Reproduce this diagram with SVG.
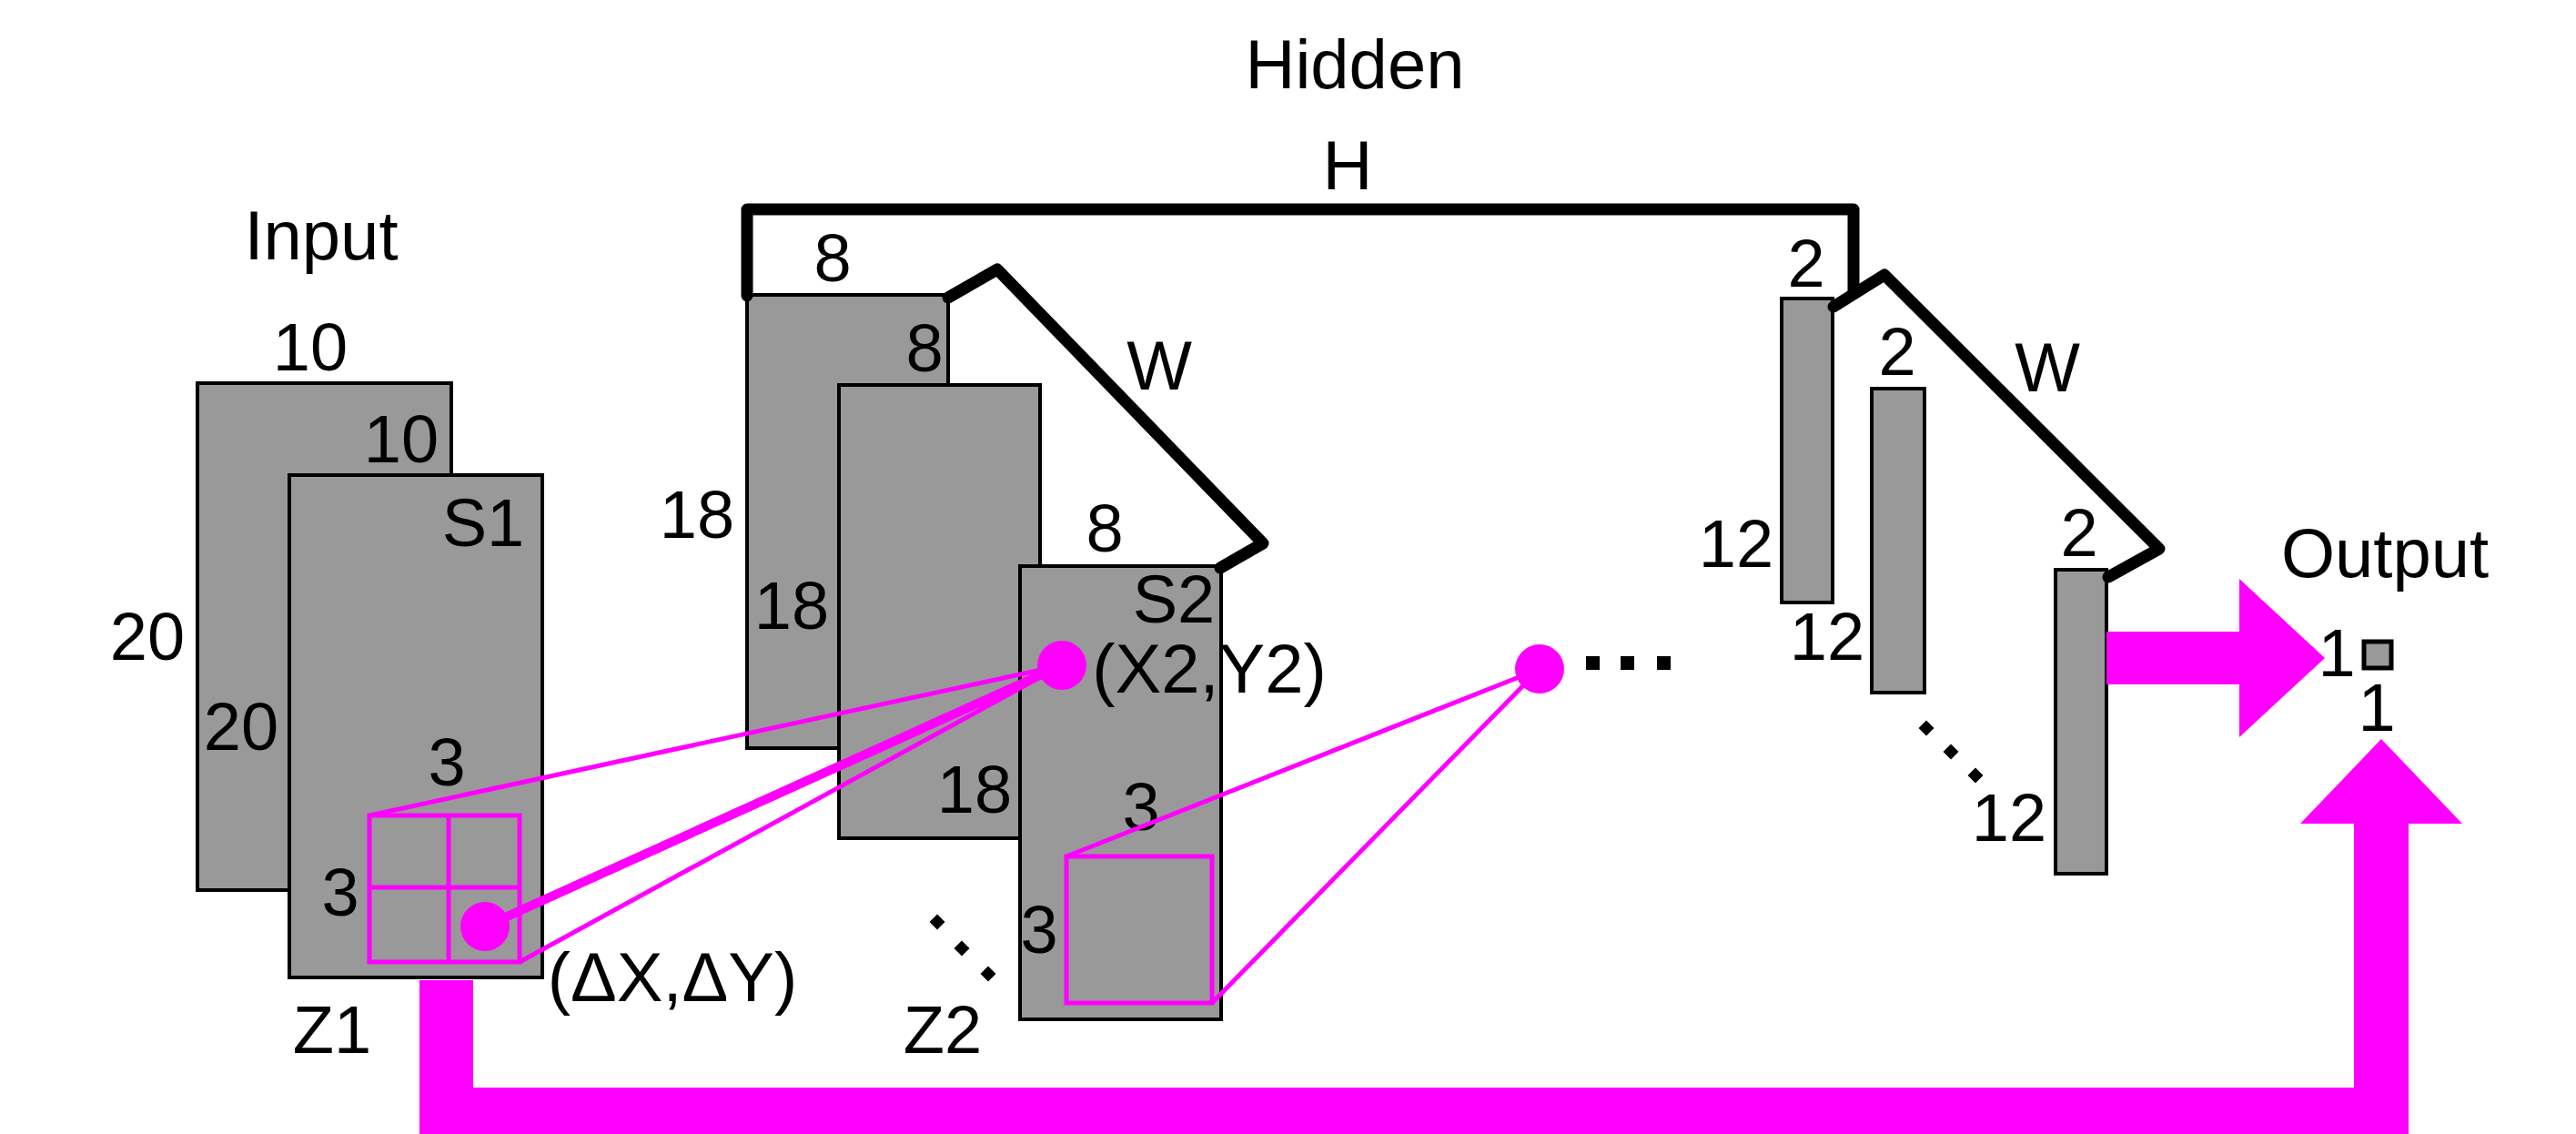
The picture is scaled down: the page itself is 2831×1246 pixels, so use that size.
<svg xmlns="http://www.w3.org/2000/svg" width="2831" height="1246" viewBox="0 0 2831 1246">
<defs>
<style>
text{font-family:"Liberation Sans",Arial,sans-serif;fill:#000;text-anchor:middle}
.w{font-size:76px}
.n{font-size:74px}
.map{fill:#999;stroke:#000;stroke-width:4}
.bar{fill:#999;stroke:#000;stroke-width:4}
.br{fill:none;stroke:#000;stroke-width:13;stroke-linejoin:round;stroke-linecap:round}
.mg{fill:none;stroke:#f0f;stroke-width:5}
.mgt{fill:none;stroke:#f0f;stroke-width:10;stroke-linecap:round}
.dot{fill:#f0f}
.big{fill:#f0f}
.blk{fill:#000}
</style>
</defs>
<rect width="2831" height="1246" fill="#fff"/>

<text class="w" x="1489" y="97">Hidden</text>
<text class="w" x="1481" y="208">H</text>

<g id="input">
<text class="w" x="353" y="285">Input</text>
<rect class="map" x="217" y="421" width="279" height="557"/>
<text class="n" x="341" y="407">10</text>
<text class="n" x="162" y="725">20</text>
<text class="n" x="265" y="824">20</text>
<rect class="map" x="318" y="522" width="278" height="552"/>
<text class="n" x="441" y="508">10</text>
<text class="n" x="531" y="600">S1</text>
<text class="n" x="491" y="863">3</text>
<text class="n" x="374" y="1006">3</text>
<text class="n" x="365" y="1157">Z1</text>
<text class="w" x="739" y="1100">(ΔX,ΔY)</text>
</g>

<g id="hidden">
<rect class="map" x="821" y="324" width="221" height="498"/>
<text class="n" x="915" y="309">8</text>
<text class="n" x="1016" y="408">8</text>
<text class="n" x="766" y="591">18</text>
<text class="n" x="870" y="691">18</text>
<rect class="map" x="922" y="423" width="221" height="498"/>
<rect class="map" x="1121" y="622" width="221" height="498"/>
<text class="n" x="1071" y="893">18</text>
<text class="n" x="1214" y="606">8</text>
<text class="n" x="1290" y="684">S2</text>
<text class="n" x="1254" y="912">3</text>
<text class="n" x="1142" y="1047">3</text>
<text class="n" x="1036" y="1157">Z2</text>
<text class="w" x="1274" y="428">W</text>
<text class="w" x="1329" y="761">(X2,Y2)</text>
<g class="blk">
<rect x="1024" y="1007" width="12" height="12" transform="rotate(45 1030 1013)"/>
<rect x="1051" y="1036" width="12" height="12" transform="rotate(45 1057 1042)"/>
<rect x="1080" y="1064" width="12" height="12" transform="rotate(45 1086 1070)"/>
<rect x="1743" y="721" width="15" height="15"/>
<rect x="1781" y="721" width="15" height="15"/>
<rect x="1821" y="721" width="15" height="15"/>
</g>
</g>

<g id="hidden2">
<rect class="bar" x="1958" y="328" width="56" height="334"/>
<rect class="bar" x="2057" y="427" width="58" height="334"/>
<rect class="bar" x="2259" y="626" width="56" height="334"/>
<text class="n" x="1985" y="315">2</text>
<text class="n" x="2085" y="412">2</text>
<text class="n" x="2285" y="611">2</text>
<text class="n" x="1908" y="623">12</text>
<text class="n" x="2008" y="725">12</text>
<text class="n" x="2208" y="924">12</text>
<text class="w" x="2250" y="430">W</text>
<g class="blk">
<rect x="2111" y="794" width="12" height="12" transform="rotate(45 2117 800)"/>
<rect x="2138" y="820" width="12" height="12" transform="rotate(45 2144 826)"/>
<rect x="2165" y="846" width="12" height="12" transform="rotate(45 2171 852)"/>
</g>
</g>

<g id="output">
<text class="w" x="2621" y="634">Output</text>
<rect class="bar" x="2598" y="705" width="30" height="29" style="stroke-width:5"/>
<text class="n" x="2568" y="743">1</text>
<text class="n" x="2612" y="803">1</text>
</g>

<g id="connectors">
<path class="br" d="M821,325 L821,230 L2037,230 L2037,320"/>
<path class="br" d="M1042,327 L1096,296 L1388,597 L1341,624"/>
<path class="br" d="M2015,337 L2071,302 L2373,603 L2317,634"/>
<rect class="mg" x="406" y="896" width="165" height="161"/>
<path class="mg" d="M493,896 V1057 M406,975 H571"/>
<rect class="mg" x="1172" y="941" width="160" height="161"/>
<path class="mg" d="M1167,731 L406,896 M1167,731 L571,1057 M1692,735 L1172,941 M1692,735 L1332,1102"/>
<path class="mgt" d="M1167,731 L533,1018"/>
<circle class="dot" cx="533" cy="1018" r="27"/>
<circle class="dot" cx="1167" cy="731" r="27"/>
<circle class="dot" cx="1692" cy="735" r="27"/>
<path class="big" d="M2315,694 L2461,694 L2461,636 L2555,723 L2461,810 L2461,752 L2315,752 Z"/>
<path class="big" d="M461,1077 L520,1077 L520,1195 L2587,1195 L2587,905 L2528,905 L2617,812 L2706,905 L2647,905 L2647,1255 L461,1255 Z"/>
</g>
</svg>
